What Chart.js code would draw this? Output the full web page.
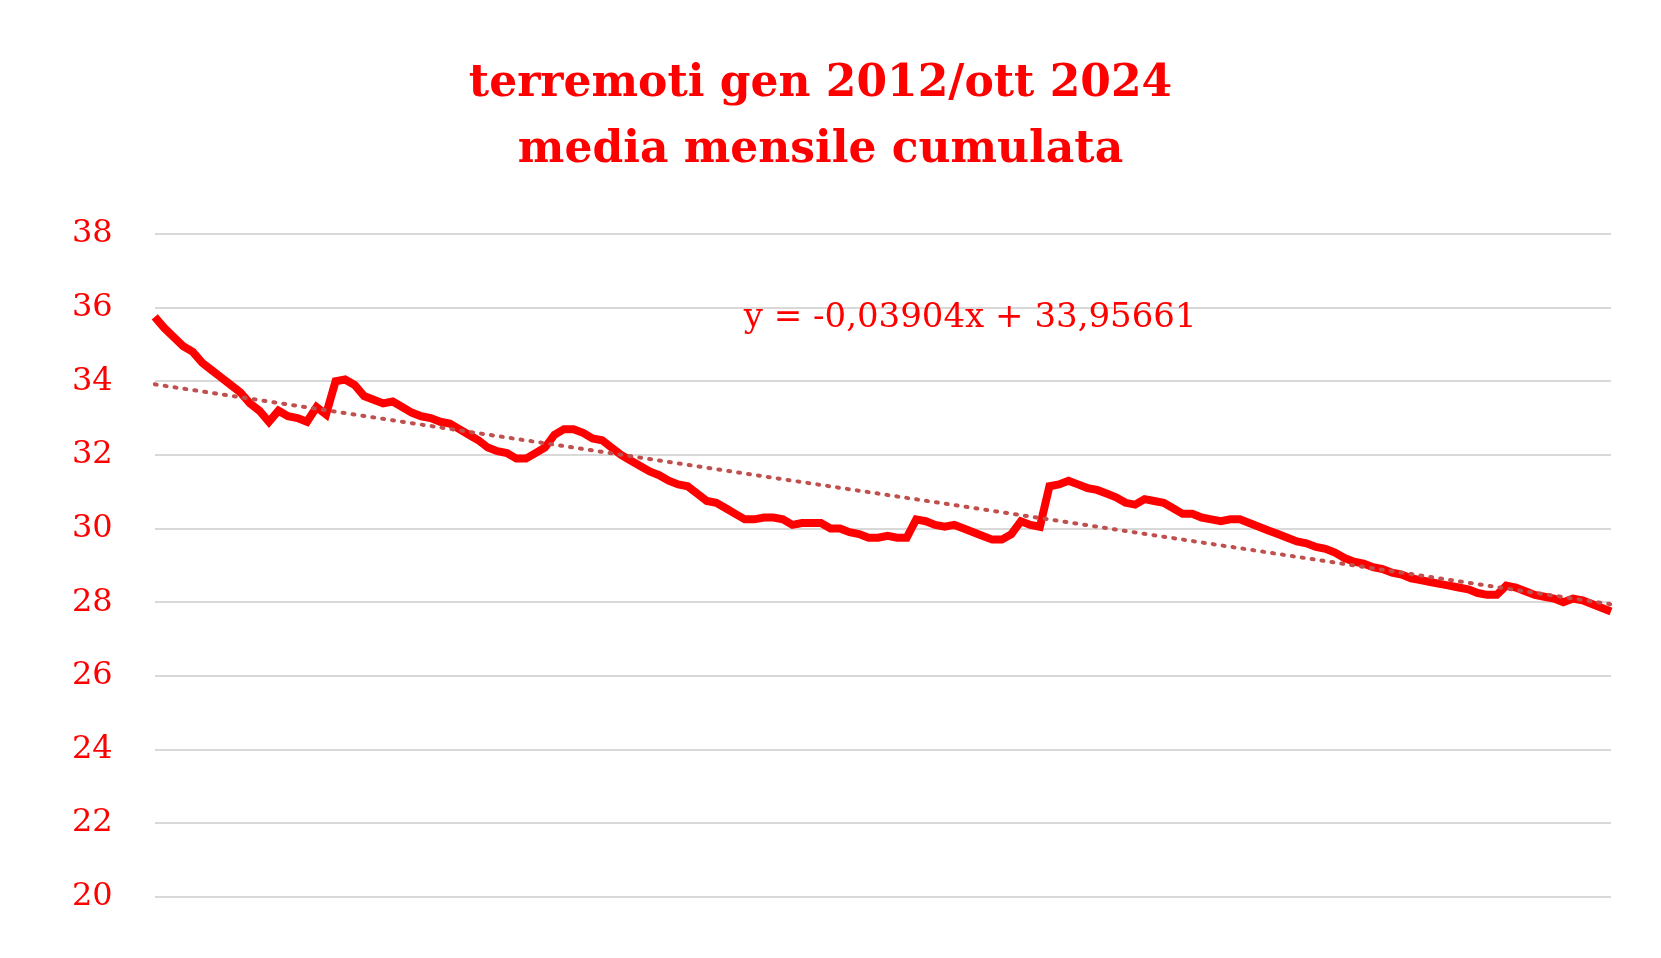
<!DOCTYPE html>
<html>
<head>
<meta charset="utf-8">
<script src="https://cdn.jsdelivr.net/npm/chart.js@4"></script>
<style>
  html, body { margin: 0; background: #fff; }
  #wrap { width: 1661px; height: 958px; }
</style>
</head>
<body>
<div id="wrap"><canvas id="chart"></canvas></div>
<script>
// media mensile cumulata, gen 2012 .. ott 2024
const values = [
  35.75, 35.45, 35.2, 34.95, 34.8, 34.5, 34.3, 34.1, 33.9, 33.7, 33.4, 33.2,
  32.9, 33.2, 33.05, 33.0, 32.9, 33.3, 33.1, 34.0, 34.05, 33.9, 33.6, 33.5,
  33.4, 33.45, 33.3, 33.15, 33.05, 33.0, 32.9, 32.85, 32.7, 32.55, 32.4, 32.2,
  32.1, 32.05, 31.9, 31.9, 32.05, 32.2, 32.55, 32.7, 32.7, 32.6, 32.45, 32.4,
  32.2, 32.0, 31.85, 31.7, 31.55, 31.45, 31.3, 31.2, 31.15, 30.95, 30.75, 30.7,
  30.55, 30.4, 30.25, 30.25, 30.3, 30.3, 30.25, 30.1, 30.15, 30.15, 30.15, 30.0,
  30.0, 29.9, 29.85, 29.75, 29.75, 29.8, 29.75, 29.75, 30.25, 30.2, 30.1, 30.05,
  30.1, 30.0, 29.9, 29.8, 29.7, 29.7, 29.85, 30.2, 30.1, 30.05, 31.15, 31.2,
  31.3, 31.2, 31.1, 31.05, 30.95, 30.85, 30.7, 30.65, 30.8, 30.75, 30.7, 30.55,
  30.4, 30.4, 30.3, 30.25, 30.2, 30.25, 30.25, 30.15, 30.05, 29.95, 29.85, 29.75,
  29.65, 29.6, 29.5, 29.45, 29.35, 29.2, 29.1, 29.05, 28.95, 28.9, 28.8, 28.75,
  28.65, 28.6, 28.55, 28.5, 28.45, 28.4, 28.35, 28.25, 28.2, 28.2, 28.45, 28.4,
  28.3, 28.2, 28.15, 28.1, 28.0, 28.1, 28.05, 27.95, 27.85, 27.75
];
const months = values.map((v, i) => i + 1);
// trend line from the equation shown on the chart
const slope = -0.03904;
const intercept = 33.95661;
const trend = months.map(x => slope * x + intercept);
const titleLines = ['terremoti gen 2012/ott 2024', 'media mensile cumulata'];
const equation = 'y = -0,03904x + 33,95661';

const red = '#ff0000';
const serif = "'DejaVu Serif', 'Liberation Serif', serif";

const equationLabel = {
  id: 'equationLabel',
  afterDraw(chart) {
    const c = chart.ctx;
    const a = chart.chartArea;
    c.save();
    c.fillStyle = red;
    c.font = '34px ' + serif;
    c.textBaseline = 'middle';
    c.fillText(equation, a.left + 589, a.top + 84);
    c.restore();
  }
};

const ctx = document.getElementById('chart').getContext('2d');
new Chart(ctx, {
  type: 'line',
  data: {
    labels: months,
    datasets: [{
      data: values,
      borderColor: red,
      borderWidth: 8,
      pointRadius: 0,
      tension: 0,
      order: 2
    }, {
      data: trend,
      borderColor: '#c0504d',
      borderWidth: 4,
      borderDash: [2, 8],
      borderCapStyle: 'round',
      pointRadius: 0,
      order: 1
    }]
  },
  options: {
    responsive: true,
    maintainAspectRatio: false,
    animation: false,
    layout: { padding: { left: 30, right: 50, top: 52, bottom: 50 } },
    plugins: {
      legend: { display: false },
      tooltip: { enabled: false },
      title: {
        display: true,
        text: titleLines,
        color: red,
        font: { family: serif, size: 44, weight: 'bold', lineHeight: 1.5 },
        padding: { top: 0, bottom: 50 }
      }
    },
    scales: {
      x: { display: false, offset: false },
      y: {
        min: 20,
        max: 38,
        ticks: {
          stepSize: 2,
          color: red,
          font: { family: serif, size: 32 },
          padding: 42
        },
        border: { display: false },
        grid: { color: '#d9d9d9', lineWidth: 2, drawTicks: false }
      }
    }
  },
  plugins: [equationLabel]
});
</script>
</body>
</html>
